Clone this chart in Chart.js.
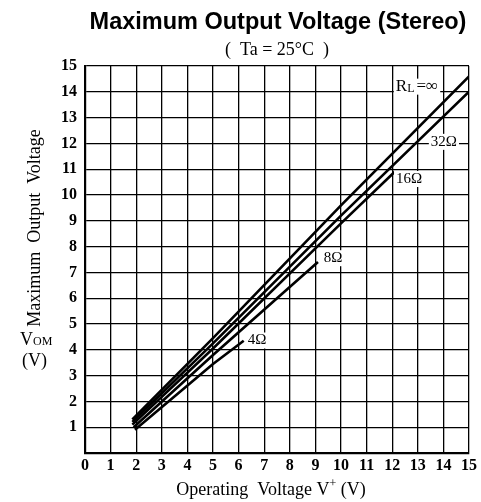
<!DOCTYPE html>
<html>
<head>
<meta charset="utf-8">
<script src="https://cdn.jsdelivr.net/npm/chart.js@4.4.1/dist/chart.umd.min.js"></script>
<style>
  html, body { margin: 0; padding: 0; background: #fff; }
  canvas { display: block; }
</style>
</head>
<body>
<canvas id="vomChart" width="481" height="502"></canvas>
<script>
// Operating voltage V+ (V) / max output voltage VOM (V) per load
const loadNames = ['RL=∞', '32Ω', '16Ω', '8Ω', '4Ω'];
const vPlusInf = [1.85, 5, 10, 15];
const vomInf   = [1.3, 4.45, 9.6, 14.6];
const vPlus32  = [1.85, 5, 10, 15];
const vom32    = [1.2, 4.25, 9.2, 14.0];
const vPlus16  = [1.85, 5, 10, 12.1];
const vom16    = [1.1, 4.05, 8.9, 10.9];
const vPlus8   = [1.9, 5, 9.1];
const vom8     = [1.0, 3.8, 7.4];
const vPlus4   = [1.95, 5, 6.2];
const vom4     = [0.9, 3.45, 4.35];

// where each curve name sits (data coords)
const nameAtX = [12.97, 14.02, 12.66, 9.69, 6.72];
const nameAtY = [14.2, 12.06, 10.62, 7.55, 4.36];

const xTickValues = [0, 1, 2, 3, 4, 5, 6, 7, 8, 9, 10, 11, 12, 13, 14, 15];
const yTickValues = [0, 1, 2, 3, 4, 5, 6, 7, 8, 9, 10, 11, 12, 13, 14, 15];

const seriesX = [vPlusInf, vPlus32, vPlus16, vPlus8, vPlus4];
const seriesY = [vomInf, vom32, vom16, vom8, vom4];

const serif = '"Liberation Serif", "DejaVu Serif", serif';

const datasets = loadNames.map((name, i) => ({
    label: name,
    data: seriesX[i].map((v, k) => ({ x: v, y: seriesY[i][k] })),
    borderColor: '#000',
    borderWidth: 2.6,
    pointRadius: 0,
    showLine: true,
    tension: 0,
    borderCapStyle: 'butt'
}));

const textPlugin = {
    id: 'textPlugin',
    afterDatasetsDraw(chart) {
        const ctx = chart.ctx;
        const xs = chart.scales.x;
        const ys = chart.scales.y;
        const area = chart.chartArea;
        ctx.save();
        ctx.fillStyle = '#000';

        // curve names with white backing
        ctx.textBaseline = 'middle';
        loadNames.forEach((name, i) => {
            const px = xs.getPixelForValue(nameAtX[i]);
            const py = ys.getPixelForValue(nameAtY[i]);
            if (i === 0) {
                ctx.font = '17px ' + serif;
                const wR = ctx.measureText('R').width;
                ctx.font = '12px ' + serif;
                const wL = ctx.measureText('L').width;
                ctx.font = '17px ' + serif;
                const wRest = ctx.measureText('=∞').width;
                const w = wR + wL + wRest + 2;
                ctx.fillStyle = '#fff';
                ctx.fillRect(px - w / 2 - 2, py - 8, w + 4, 16);
                ctx.fillStyle = '#000';
                ctx.textAlign = 'left';
                let cx = px - w / 2;
                ctx.fillText('R', cx, py);
                cx += wR;
                ctx.font = '12px ' + serif;
                ctx.fillText('L', cx, py + 2);
                cx += wL + 2;
                ctx.font = '17px ' + serif;
                ctx.fillText('=∞', cx, py);
            } else {
                ctx.font = '15px ' + serif;
                const w = ctx.measureText(name).width;
                ctx.fillStyle = '#fff';
                ctx.fillRect(px - w / 2 - 2, py - 8, w + 4, 16);
                ctx.fillStyle = '#000';
                ctx.textAlign = 'center';
                ctx.fillText(name, px, py);
            }
        });

        // titles
        const midX = (area.left + area.right) / 2;
        ctx.textAlign = 'center';
        ctx.font = 'bold 23.5px "Liberation Sans", Arial, sans-serif';
        ctx.fillText('Maximum Output Voltage (Stereo)', midX + 1, 23);
        ctx.font = '18px ' + serif;
        ctx.fillText('(  Ta = 25°C  )', midX, 50);

        // x axis title
        ctx.font = '18px ' + serif;
        const xt1 = 'Operating  Voltage V';
        const w1 = ctx.measureText(xt1).width;
        ctx.font = '12px ' + serif;
        const wPlus = ctx.measureText('+').width;
        ctx.font = '18px ' + serif;
        const xt2 = ' (V)';
        const w2 = ctx.measureText(xt2).width;
        let sx = midX - (w1 + wPlus + w2) / 2 - 6;
        ctx.textAlign = 'left';
        ctx.fillText(xt1, sx, 490);
        ctx.font = '12px ' + serif;
        ctx.fillText('+', sx + w1, 484);
        ctx.font = '18px ' + serif;
        ctx.fillText(xt2, sx + w1 + wPlus, 490);

        // y axis title
        ctx.save();
        ctx.translate(35, 228);
        ctx.rotate(-Math.PI / 2);
        ctx.textAlign = 'center';
        ctx.font = '18px ' + serif;
        ctx.fillText('Maximum  Output  Voltage', 0, 0);
        ctx.restore();

        // VOM (V)
        ctx.textAlign = 'left';
        ctx.font = '18px ' + serif;
        const wV = ctx.measureText('V').width;
        ctx.fillText('V', 20, 340);
        ctx.font = '12px ' + serif;
        ctx.fillText('OM', 20 + wV, 342);
        ctx.font = '18px ' + serif;
        ctx.fillText('(V)', 22, 361);

        ctx.restore();
    }
};

new Chart(document.getElementById('vomChart'), {
    type: 'scatter',
    data: { datasets },
    options: {
        responsive: false,
        animation: false,
        layout: { padding: { top: 66, right: 12, left: 0, bottom: 0 } },
        plugins: {
            legend: { display: false },
            tooltip: { enabled: false },
            title: { display: false }
        },
        scales: {
            x: {
                type: 'linear',
                min: 0,
                max: 15,
                afterFit: scale => { scale.height = 49; },
                afterBuildTicks: scale => { scale.ticks = xTickValues.map(v => ({ value: v })); },
                ticks: {
                    color: '#000',
                    padding: 3,
                    font: { family: serif, size: 16, weight: 'bold' }
                },
                grid: { color: '#000', lineWidth: 1.3, drawTicks: false },
                border: { display: true, color: '#000', width: 2.2 }
            },
            y: {
                type: 'linear',
                min: 0,
                max: 15,
                afterFit: scale => { scale.width = 85; },
                afterBuildTicks: scale => { scale.ticks = yTickValues.map(v => ({ value: v })); },
                ticks: {
                    color: '#000',
                    padding: 8,
                    font: { family: serif, size: 16, weight: 'bold' },
                    callback: v => (v === 0 ? '' : v)
                },
                grid: { color: '#000', lineWidth: 1.3, drawTicks: false },
                border: { display: true, color: '#000', width: 2.2 }
            }
        }
    },
    plugins: [textPlugin]
});
</script>
</body>
</html>
